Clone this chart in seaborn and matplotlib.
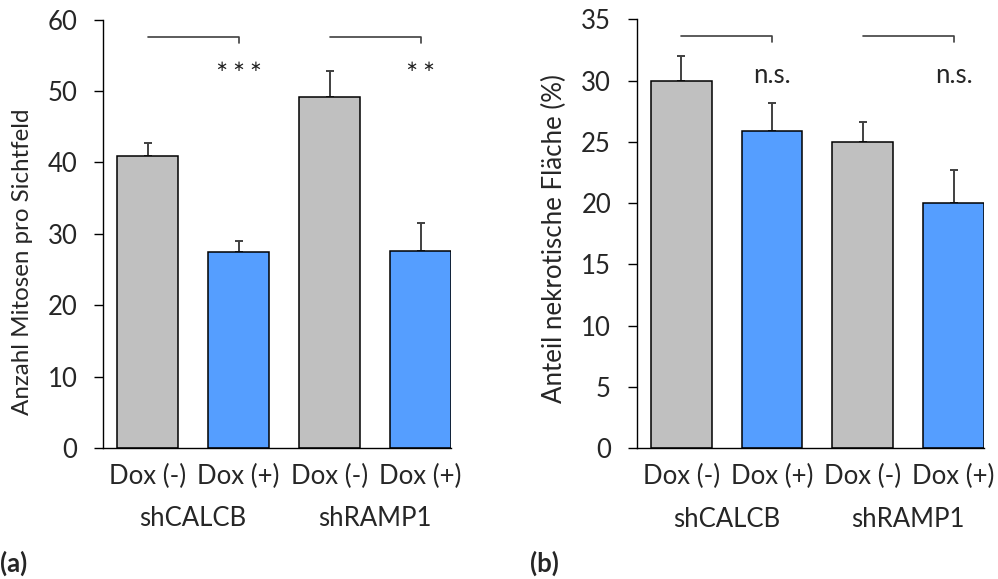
import matplotlib
matplotlib.use("Agg")
import matplotlib.pyplot as plt
import matplotlib.transforms as mtransforms
import pandas as pd
import seaborn as sns

# data
groups = ["shCALCB", "shRAMP1"]
conditions = ["Dox (-)", "Dox (+)", "Dox (-)", "Dox (+)"]
mitoses_mean = [40.9, 27.5, 49.15, 27.6]
mitoses_err = [1.85, 1.5, 3.65, 3.9]
necrosis_mean = [30.0, 25.9, 25.0, 20.0]
necrosis_err = [2.0, 2.3, 1.6, 2.7]
sig_mitoses = ["∗ ∗ ∗", "∗ ∗"]
sig_necrosis = ["n.s.", "n.s."]

sns.set_style("white")
plt.rcParams["font.family"] = ["Lato", "DejaVu Sans"]

gray = "#c0c0c0"
blue = "#559eff"
dark = "#404040"
FS = 18.5


def panel(ax, means, errs, ymax, ystep, ylabel, label_fs, label_y, sig, bracket_y,
          drop, sig_y, sig_style):
    df = pd.DataFrame({
        "cond": [f"{g} {c}" for g in groups for c in ("Dox (-)", "Dox (+)")],
        "dox": ["minus", "plus"] * 2,
        "value": means,
    })
    sns.barplot(data=df, x="cond", y="value", hue="dox", palette=[gray, blue],
                saturation=1, width=0.67, edgecolor="black", linewidth=1.1,
                legend=False, ax=ax, errorbar=None, zorder=2)
    xs = list(range(len(means)))
    ax.errorbar(xs, means, yerr=[[0] * len(errs), errs], fmt="none", ecolor=dark,
                elinewidth=1.4, capsize=3, capthick=1.4, zorder=1)
    ax.set_ylim(0, ymax)
    ax.set_xlim(-0.49, 3.335)
    ax.set_yticks(range(0, ymax + 1, ystep))
    ax.set_xticks(xs)
    ax.set_xticklabels(conditions)
    ax.set_xlabel("")
    ax.set_ylabel(ylabel, fontsize=label_fs)
    ax.yaxis.set_label_coords(-0.20, label_y)
    sns.despine(ax=ax)
    for s in ("left", "bottom"):
        ax.spines[s].set_color("black")
        ax.spines[s].set_linewidth(1.0)
    ax.tick_params(axis="y", left=True, length=6.5, width=1.0, color="black",
                   labelsize=FS, pad=12)
    ax.tick_params(axis="x", bottom=False, labelsize=FS, pad=8)
    trans = mtransforms.blended_transform_factory(ax.transData, ax.transAxes)
    for i, g in enumerate(groups):
        ax.text(2 * i + 0.5, -0.165, g, transform=trans, ha="center", va="center",
                fontsize=FS)
        x0, x1 = 2 * i, 2 * i + 1
        ax.plot([x0, x1, x1], [bracket_y, bracket_y, bracket_y - drop],
                color=dark, lw=1.2, clip_on=False)
        ax.text(x1, sig_y, sig[i], ha="center", va="center", **sig_style)


fig = plt.figure(figsize=(9.98, 5.79), dpi=100)
ax1 = fig.add_axes([0.1032, 0.2263, 0.3487, 0.7400])
ax2 = fig.add_axes([0.6380, 0.2257, 0.3480, 0.7410])

panel(ax1, mitoses_mean, mitoses_err, 60, 10, "Anzahl Mitosen pro Sichtfeld", 17.4, 0.435,
      sig_mitoses, 57.5, 0.8, 53.4,
      dict(fontsize=10.5, family=["DejaVu Sans"], color="#202020"))
panel(ax2, necrosis_mean, necrosis_err, 35, 5, "Anteil nekrotische Fläche (%)", 18.6, 0.49,
      sig_necrosis, 33.66, 0.5, 30.4, dict(fontsize=FS))

fig.text(0.0, 0.027, "(a)", fontsize=FS, fontweight="bold", va="center", ha="left")
fig.text(0.531, 0.027, "(b)", fontsize=FS, fontweight="bold", va="center", ha="left")

fig.savefig("out.png", dpi=100)
